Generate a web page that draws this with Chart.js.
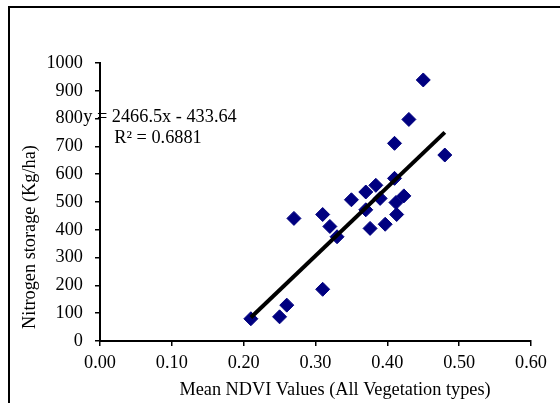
<!DOCTYPE html>
<html>
<head>
<meta charset="utf-8">
<script src="https://cdn.jsdelivr.net/npm/chart.js@4.4.1/dist/chart.umd.min.js"></script>
<style>
  html, body { margin: 0; padding: 0; background: #fff; overflow: hidden; }
  #wrap { position: relative; width: 560px; height: 403px; }
  #frame { position: absolute; left: 8px; top: 6px; width: 600px; height: 450px; border: 2px solid #000; box-sizing: border-box; }
  canvas { position: absolute; left: 0; top: 0; }
</style>
</head>
<body>
<div id="wrap">
  <div id="frame"></div>
  <canvas id="c" width="560" height="403"></canvas>
</div>
<script>
// ---- Data ----
const ndviValues = [0.21, 0.25, 0.26, 0.31, 0.27, 0.31, 0.32, 0.33, 0.35, 0.37, 0.37, 0.376, 0.384, 0.39, 0.397, 0.413, 0.41, 0.412, 0.423, 0.41, 0.43, 0.45, 0.48];
const nitrogenValues = [80, 87, 129, 186, 441, 455, 412, 375, 508, 472, 536, 405, 560, 513, 420, 455, 585, 498, 522, 711, 797, 939, 669];
const trendSlope = 2466.5;
const trendIntercept = -433.64;
const trendRange = [0.21, 0.48];
const equationLines = ["y = 2466.5x - 433.64", "R\u00B2 = 0.6881"];
const xTitle = "Mean NDVI Values (All Vegetation types)";
const yTitle = "Nitrogen storage (Kg/ha)";

const points = ndviValues.map((x, i) => ({ x: x, y: nitrogenValues[i] }));
const trendPoints = trendRange.map(x => ({ x: x, y: trendSlope * x + trendIntercept }));

const FONT = "'Liberation Serif', 'Times New Roman', serif";
const FS = 18.3;

const textPlugin = {
  id: 'texts',
  afterDraw(chart) {
    const ctx = chart.ctx;
    ctx.save();
    ctx.fillStyle = '#000';
    ctx.font = FS + "px " + FONT;
    ctx.textAlign = 'center';
    ctx.textBaseline = 'middle';
    // equation
    ctx.fillText(equationLines[0], 160, 117);
    ctx.fillText(equationLines[1], 158, 138);
    // x title
    ctx.fillText(xTitle, 335, 390);
    // y title
    ctx.translate(30, 237);
    ctx.rotate(-Math.PI / 2);
    ctx.fillText(yTitle, 0, 0);
    ctx.restore();
  }
};

new Chart(document.getElementById('c'), {
  type: 'scatter',
  data: {
    datasets: [
      {
        label: 'Nitrogen',
        data: points,
        pointStyle: 'rectRot',
        pointRadius: 7,
        pointHoverRadius: 7,
        backgroundColor: '#000080',
        borderColor: '#000080',
        borderWidth: 1,
        order: 2
      },
      {
        label: 'Trend',
        type: 'line',
        data: trendPoints,
        borderColor: '#000',
        borderWidth: 4,
        pointRadius: 0,
        fill: false,
        order: 1
      }
    ]
  },
  options: {
    responsive: false,
    animation: false,
    events: [],
    layout: { padding: { left: 0, top: 63, right: 29, bottom: 0 } },
    plugins: { legend: { display: false }, tooltip: { enabled: false } },
    scales: {
      x: {
        type: 'linear',
        min: 0, max: 0.6,
        afterFit(s) { s.height = 62; },
        border: { display: true, color: '#000', width: 2 },
        grid: { drawOnChartArea: false, drawTicks: true, tickLength: 5, color: '#000', lineWidth: 1.5 },
        ticks: {
          stepSize: 0.1,
          color: '#000',
          font: { family: FONT, size: FS },
          padding: 6,
          maxRotation: 0,
          callback: v => Number(v).toFixed(2)
        }
      },
      y: {
        type: 'linear',
        min: 0, max: 1000,
        afterFit(s) { s.width = 100; },
        border: { display: true, color: '#000', width: 2 },
        grid: { drawOnChartArea: false, drawTicks: true, tickLength: 5, color: '#000', lineWidth: 1.5 },
        ticks: {
          stepSize: 100,
          color: '#000',
          font: { family: FONT, size: FS },
          padding: 12,
          callback: v => String(v)
        }
      }
    }
  },
  plugins: [textPlugin]
});
</script>
</body>
</html>
